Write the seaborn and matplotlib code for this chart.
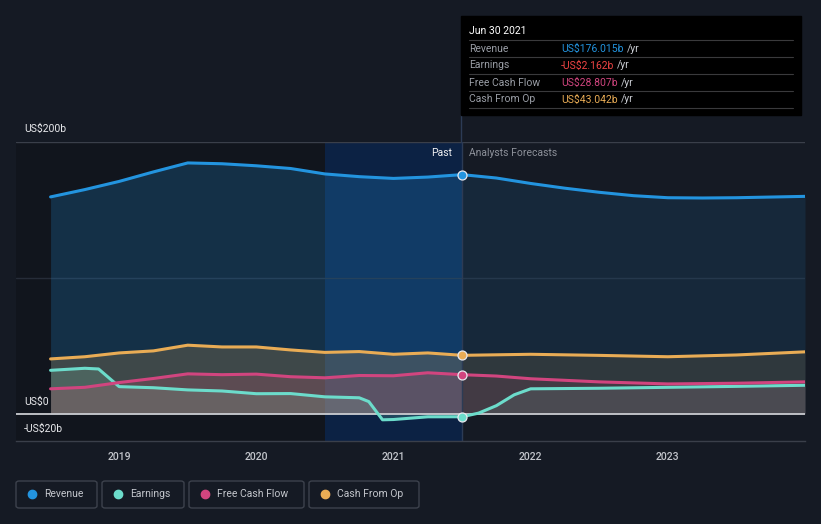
import matplotlib
matplotlib.use("Agg")
import matplotlib.pyplot as plt
import seaborn as sns
import pandas as pd
import numpy as np
from matplotlib.patches import FancyBboxPatch, Rectangle
from matplotlib.lines import Line2D

# ---------------- data (US$ billions) ----------------
t_rev = [2018.5, 2018.75, 2019.0, 2019.25, 2019.5, 2019.75, 2020.0, 2020.25, 2020.5, 2020.75, 2021.0, 2021.25, 2021.5,
         2021.75, 2022.0, 2022.25, 2022.5, 2022.75, 2023.0, 2023.25, 2023.5, 2023.75, 2024.0]
revenue = [159.6, 165.0, 171.0, 178.0, 184.6, 184.0, 182.5, 180.5, 176.5, 174.5, 173.2, 174.2, 176.0,
           173.5, 169.5, 166.0, 163.0, 160.5, 159.0, 158.8, 159.0, 159.5, 160.0]

t_earn = [2018.5, 2018.75, 2018.85, 2019.0, 2019.25, 2019.5, 2019.75, 2020.0, 2020.25, 2020.5, 2020.75, 2020.82,
          2020.92, 2021.0, 2021.25, 2021.5, 2021.62, 2021.75, 2021.88, 2022.0, 2022.5, 2023.0, 2023.5, 2024.0]
earnings = [32.0, 33.5, 33.0, 20.0, 19.2, 17.6, 16.8, 14.8, 14.9, 12.5, 11.8, 9.0,
            -4.4, -4.2, -2.2, -2.162, 0.5, 6.0, 14.0, 18.4, 18.8, 19.5, 20.2, 21.0]

t_fcf = [2018.5, 2018.75, 2019.0, 2019.25, 2019.5, 2019.75, 2020.0, 2020.25, 2020.5, 2020.75, 2021.0, 2021.25, 2021.5,
         2021.75, 2022.0, 2022.5, 2023.0, 2023.5, 2024.0]
fcf = [18.4, 19.5, 23.0, 26.0, 29.4, 28.8, 29.2, 27.3, 26.5, 28.2, 28.0, 30.2, 28.807,
       27.8, 25.8, 23.5, 22.0, 22.5, 23.5]

t_cfo = [2018.5, 2018.75, 2019.0, 2019.25, 2019.5, 2019.75, 2020.0, 2020.25, 2020.5, 2020.75, 2021.0, 2021.25, 2021.5,
         2022.0, 2022.5, 2023.0, 2023.5, 2024.0]
cfo = [40.4, 42.0, 44.8, 46.3, 50.5, 49.2, 49.2, 47.0, 45.2, 45.8, 43.8, 44.8, 43.042,
       43.8, 43.0, 42.0, 43.3, 45.6]

series_names = ["Revenue", "Earnings", "Free Cash Flow", "Cash From Op"]
colors = ["#2394df", "#6cdccb", "#d1457f", "#e9ac55"]
tooltip_values = ["US$176.015b", "-US$2.162b", "US$28.807b", "US$43.042b"]
tooltip_colors = ["#2394df", "#ef4444", "#d1457f", "#e9ac55"]
year_ticks = [2019, 2020, 2021, 2022, 2023]
y_labels = {200: "US$200b", 0: "US$0", -20: "-US$20b"}
now = 2021.5

frames = []
for name, t, v in zip(series_names, [t_rev, t_earn, t_fcf, t_cfo], [revenue, earnings, fcf, cfo]):
    frames.append(pd.DataFrame({"t": t, "value": v, "series": name}))
df = pd.concat(frames, ignore_index=True)

# ---------------- figure ----------------
BG = "#151a24"
sns.set_style("dark")
plt.rcParams["font.family"] = ["Roboto", "DejaVu Sans"]
W, H = 821, 524
fig = plt.figure(figsize=(W / 100, H / 100), dpi=100, facecolor=BG)

def fx(px):
    return px / W

def fy(py):
    return 1 - py / H

ax = fig.add_axes([fx(16), fy(441), fx(805) - fx(16), fy(142) - fy(441)])
ax.set_facecolor(BG)
ax.set_xlim(2018.248, 2024.0)
ax.set_ylim(-20, 200)

# background regions
ax.axvspan(2018.248, 2020.5, color="#11151d", zorder=0, lw=0)
ax.axvspan(2020.5, now, color="#0b2448", zorder=0.5, lw=0, alpha=0.9)

# grid lines
ax.axhline(200, color="#3a3f4a", lw=1, zorder=1)
ax.axhline(100, color="#262c38", lw=1, zorder=1)

# fills
pal = dict(zip(series_names, colors))
for name in series_names:
    d = df[df.series == name]
    t = d.t.values
    v = d.value.values
    past = t <= now + 1e-9
    fut = t >= now - 1e-9
    a_p = 0.22 if name == "Revenue" else 0.2
    a_f = 0.12 if name == "Revenue" else 0.12
    ax.fill_between(t[past], v[past], 0, color=pal[name], alpha=a_p, lw=0, zorder=2)
    ax.fill_between(t[fut], v[fut], 0, color=pal[name], alpha=a_f, lw=0, zorder=2)

sns.lineplot(data=df, x="t", y="value", hue="series", hue_order=series_names, palette=pal,
             lw=2.2, ax=ax, legend=False, zorder=4, sort=True)

ax.axhline(0, color="#c9cbd0", lw=1.3, zorder=3.5)

# markers at now
for name in series_names:
    d = df[(df.series == name) & (np.isclose(df.t, now))]
    ax.scatter(d.t, d.value, s=42, color=pal[name], edgecolor="#e8e8ee", linewidth=0.9, zorder=6)

# vertical now line
ax.plot([now, now], [-20, 200], color="#2c3b55", lw=1, zorder=3)
fig.add_artist(Line2D([fx(461), fx(461)], [fy(142), fy(115)], color="#2c3b55", lw=1))

# axes styling
for s in ["top", "right", "left"]:
    ax.spines[s].set_visible(False)
ax.spines["bottom"].set_color("#3a3f4a")
ax.spines["bottom"].set_linewidth(1)
ax.set_xticks(year_ticks)
ax.set_xticklabels([str(y) for y in year_ticks], color="#c3c6cc", fontsize=7.5, fontweight="medium")
ax.tick_params(axis="x", length=3, width=1, color="#3a3f4a", pad=5)
ax.set_yticks([])
ax.set_xlabel("")
ax.set_ylabel("")
ax.grid(False)

# y labels
for val, lab, py in [(200, y_labels[200], 129), (0, y_labels[0], 402), (-20, y_labels[-20], 429)]:
    fig.text(fx(24), fy(py), lab, color="#e8e9ec", fontsize=7.5, va="center", ha="left")

# Past / Forecast labels
fig.text(fx(452), fy(153), "Past", color="#f0f0f2", fontsize=7.5, va="center", ha="right")
fig.text(fx(469), fy(153), "Analysts Forecasts", color="#8d919a", fontsize=7.5, va="center", ha="left")

# tooltip
fig.add_artist(Rectangle((fx(461), fy(115)), fx(801) - fx(461), fy(16) - fy(115), color="#000000", zorder=10))
fig.text(fx(469), fy(31), "Jun 30 2021", color="#ffffff", fontsize=7.5, va="center", ha="left", zorder=11)
for py in [40, 57, 74, 91, 108]:
    fig.add_artist(Line2D([fx(469), fx(793)], [fy(py), fy(py)], color="#3a3a3c", lw=0.8, zorder=11))
for i, (name, val, c) in enumerate(zip(series_names, tooltip_values, tooltip_colors)):
    py = 48.5 + 17 * i
    fig.text(fx(469), fy(py), name, color="#9a9ea6", fontsize=7.5, va="center", ha="left", zorder=11)
    t = fig.text(fx(561), fy(py), val, color=c, fontsize=7.5, va="center", ha="left", zorder=11)
    fig.canvas.draw()
    bb = t.get_window_extent()
    fig.text(bb.x1 / W + fx(3), fy(py), "/yr", color="#c9ccd2", fontsize=7.5, va="center", ha="left", zorder=11)

# legend boxes
boxes = [(16, 97, 32, 44), (102, 184, 118, 130), (189, 304, 205, 217), (309, 419, 325, 337)]
for (x0, x1, dx, tx), name, c in zip(boxes, series_names, colors):
    fig.add_artist(FancyBboxPatch((fx(x0), fy(508)), fx(x1) - fx(x0), fy(481) - fy(508),
                                  boxstyle="round,pad=0,rounding_size=0.004", fc="none",
                                  ec="#3d424d", lw=1))
    fig.add_artist(Line2D([fx(dx)], [fy(494)], marker="o", markersize=6, color=c, lw=0))
    fig.text(fx(tx), fy(494), name, color="#c3c6cc", fontsize=7.5, va="center", ha="left")

fig.savefig("out.png", dpi=100, facecolor=BG)
